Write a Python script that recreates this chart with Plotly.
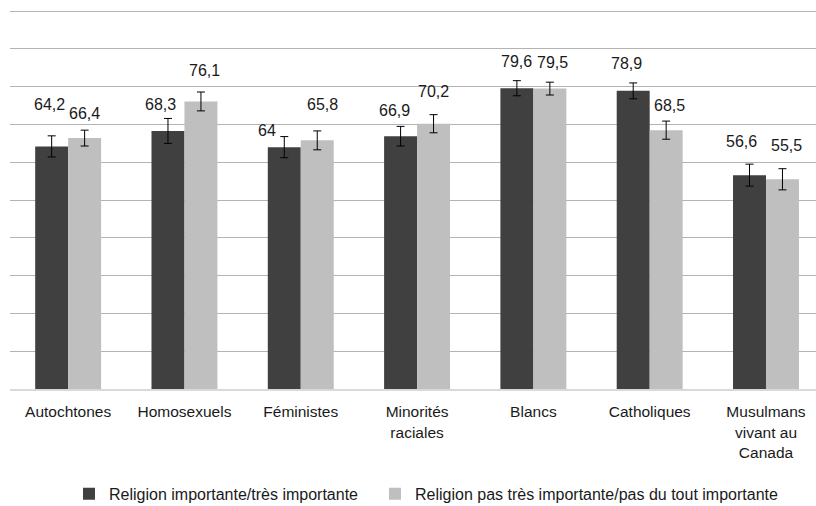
import plotly.graph_objects as go

categories = ["Autochtones", "Homosexuels", "Féministes", "Minorités<br>raciales",
              "Blancs", "Catholiques", "Musulmans<br>vivant au<br>Canada"]
series_names = ["Religion importante/très importante",
                "Religion pas très importante/pas du tout importante"]
values_important = [64.2, 68.3, 64.0, 66.9, 79.6, 78.9, 56.6]
values_not_important = [66.4, 76.1, 65.8, 70.2, 79.5, 68.5, 55.5]
err_important = [2.8, 3.3, 2.8, 2.6, 2.0, 2.1, 2.9]
err_not_important = [2.1, 2.5, 2.5, 2.4, 1.7, 2.4, 2.8]
labels_important = ["64,2", "68,3", "64", "66,9", "79,6", "78,9", "56,6"]
labels_not_important = ["66,4", "76,1", "65,8", "70,2", "79,5", "68,5", "55,5"]

# style: label offsets (px) relative to error-bar top / bar center
lab_dx_imp = [-2, -7, -17, -6, 0, -7, -8]
lab_dy_imp = [31, 14, 6, 16, 19, 19, 23]
lab_dx_not = [0, 4, 5, 0, 3, 3, 4]
lab_dy_not = [17, 22, 26, 23, 20, 16, 23]

DARK = "#404040"
LIGHT = "#bfbfbf"
FONT = "Liberation Sans, Arial, sans-serif"
BAR_HALF = 16.5

fig = go.Figure()
fig.add_trace(go.Bar(
    x=categories, y=values_important, name=series_names[0], legend="legend",
    marker=dict(color=DARK, line=dict(width=0)),
    error_y=dict(type="data", array=err_important, visible=True,
                 color="#000000", thickness=1, width=4),
))
fig.add_trace(go.Bar(
    x=categories, y=values_not_important, name=series_names[1], legend="legend2",
    marker=dict(color=LIGHT, line=dict(width=0)),
    error_y=dict(type="data", array=err_not_important, visible=True,
                 color="#000000", thickness=1, width=4),
))

annotations = []
for i, c in enumerate(categories):
    annotations.append(dict(
        x=c, y=values_important[i] + err_important[i], xref="x", yref="y",
        text=labels_important[i], showarrow=False,
        xshift=-BAR_HALF + lab_dx_imp[i], yshift=lab_dy_imp[i],
        xanchor="center", yanchor="middle",
        font=dict(family=FONT, size=16, color="#1a1a1a")))
    annotations.append(dict(
        x=c, y=values_not_important[i] + err_not_important[i], xref="x", yref="y",
        text=labels_not_important[i], showarrow=False,
        xshift=BAR_HALF + lab_dx_not[i], yshift=lab_dy_not[i],
        xanchor="center", yanchor="middle",
        font=dict(family=FONT, size=16, color="#1a1a1a")))

legend_common = dict(orientation="h", xanchor="left", yref="container", xref="container",
                     y=0.024, yanchor="middle",
                     font=dict(family=FONT, size=16, color="#1a1a1a"),
                     itemsizing="constant")

fig.update_layout(
    width=816, height=506,
    margin=dict(l=10, r=0, t=10, b=117, autoexpand=False),
    paper_bgcolor="white", plot_bgcolor="white",
    barmode="group", bargap=0.433, bargroupgap=0,
    font=dict(family=FONT, size=15, color="#1a1a1a"),
    showlegend=True,
    legend=dict(x=69 / 816, **legend_common),
    legend2=dict(x=375 / 816, **legend_common),
    annotations=annotations,
    xaxis=dict(range=[-0.5, 6.43], showgrid=False, showline=True, automargin=False,
               linecolor="#d9d9d9", linewidth=1.5, ticks="", ticklabelstandoff=8,
               tickfont=dict(family=FONT, size=15.5, color="#1a1a1a")),
    yaxis=dict(range=[0, 100.3], dtick=10, showgrid=True, gridcolor="#b3b3b3",
               gridwidth=1, showticklabels=False, zeroline=False, ticks="",
               showline=False, automargin=False),
)

fig.write_html("out.html", config={"displayModeBar": False},
               post_script="document.body.style.margin='0';document.body.style.overflow='hidden';")
